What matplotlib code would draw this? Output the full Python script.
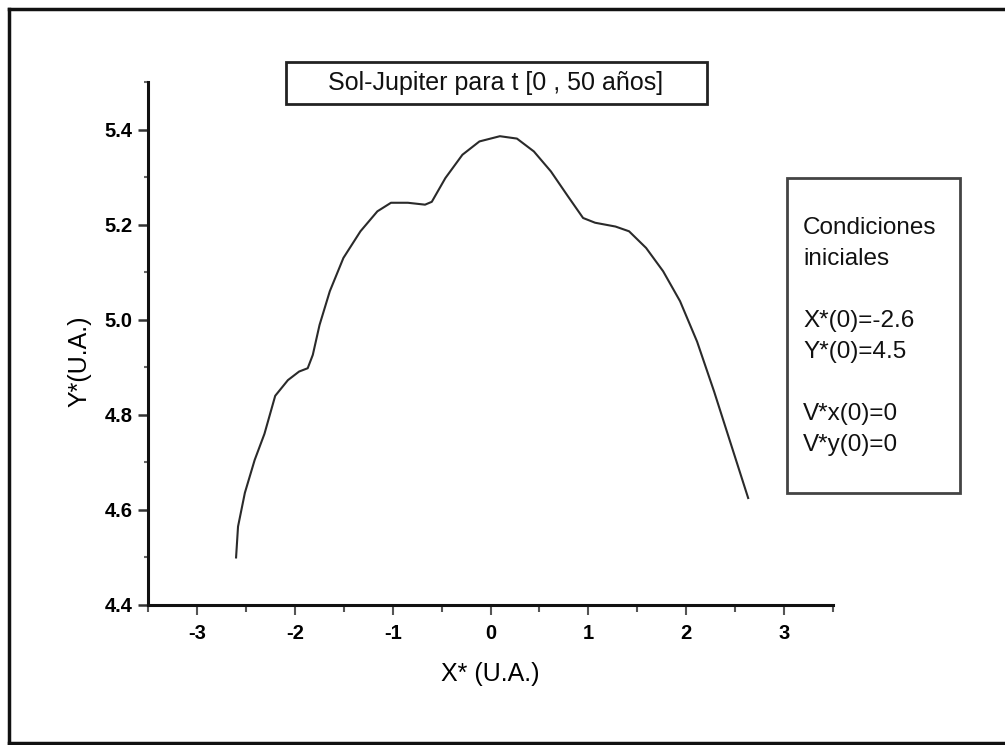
import matplotlib.pyplot as plt
from matplotlib.patches import Rectangle
from matplotlib.lines import Line2D
import numpy as np

plt.rcParams['font.family'] = ['Liberation Sans', 'DejaVu Sans']

# orbit points (X*, Y* in U.A.)
x_orbit = [-2.60, -2.58, -2.51, -2.41, -2.31, -2.20, -2.07, -1.956, -1.868,
           -1.816, -1.747, -1.642, -1.503, -1.329, -1.156, -1.017, -0.844,
           -0.669, -0.600, -0.461, -0.287, -0.113, 0.096, 0.270, 0.443,
           0.617, 0.790, 0.946, 1.069, 1.277, 1.416, 1.590, 1.764, 1.937,
           2.111, 2.285, 2.459, 2.633]
y_orbit = [4.50, 4.565, 4.636, 4.705, 4.76, 4.84, 4.873, 4.891, 4.898,
           4.926, 4.989, 5.060, 5.130, 5.186, 5.228, 5.246, 5.246,
           5.242, 5.248, 5.298, 5.347, 5.375, 5.386, 5.381, 5.354,
           5.312, 5.260, 5.214, 5.204, 5.196, 5.186, 5.151, 5.102, 5.039,
           4.954, 4.849, 4.737, 4.625]

x_ticks = [-3, -2, -1, 0, 1, 2, 3]
y_ticks = [4.4, 4.6, 4.8, 5.0, 5.2, 5.4]

title = "Sol-Jupiter para t [0 , 50 años]"
cond_lines = ["Condiciones", "iniciales", "", "X*(0)=-2.6", "Y*(0)=4.5",
              "", "V*x(0)=0", "V*y(0)=0"]

W, H = 1005, 745
fig = plt.figure(figsize=(W / 100, H / 100), dpi=100)
ax = fig.add_axes([148 / W, 1 - 605 / H, 685 / W, 523 / H])

ax.plot(x_orbit, y_orbit, color='#2a2a2a', lw=1.5)

ax.set_xlim(-3.5, 3.5)
ax.set_ylim(4.4, 5.5)
ax.spines['top'].set_visible(False)
ax.spines['right'].set_visible(False)
for s in ['left', 'bottom']:
    ax.spines[s].set_linewidth(2.2)
    ax.spines[s].set_color('#111111')

ax.set_xticks(x_ticks)
ax.set_xticklabels([str(t) for t in x_ticks])
ax.set_xticks(np.arange(-3.5, 3.6, 0.5), minor=True)
ax.set_yticks(y_ticks)
ax.set_yticklabels([f"{t:.1f}" for t in y_ticks])
ax.set_yticks(np.arange(4.5, 5.51, 0.1), minor=True)

ax.tick_params(axis='x', which='major', direction='out', length=7, width=1.5,
               color='#555555', pad=7, labelsize=14.5)
ax.tick_params(axis='x', which='minor', direction='out', length=5, width=1.5,
               color='#555555')
ax.tick_params(axis='y', which='major', direction='out', length=7, width=1.8,
               color='#333333', pad=4, labelsize=14.5)
ax.tick_params(axis='y', which='minor', direction='out', length=3, width=1.5,
               color='#666666')
for lab in ax.get_xticklabels() + ax.get_yticklabels():
    lab.set_fontweight('bold')

ax.set_xlabel("X* (U.A.)", fontsize=18, labelpad=13)
ax.set_ylabel("Y*(U.A.)", fontsize=18)
ax.yaxis.set_label_coords(-0.082, 0.4665)

# title box
fig.patches.append(Rectangle((286 / W, 1 - 104 / H), 421 / W, 42 / H,
                             transform=fig.transFigure, fill=False,
                             edgecolor='#222222', lw=2))
fig.text(496 / W, 1 - 83 / H, title, ha='center', va='center', fontsize=18,
         color='#111111')

# initial conditions box
fig.patches.append(Rectangle((787 / W, 1 - 493 / H), 173 / W, 315 / H,
                             transform=fig.transFigure, fill=False,
                             edgecolor='#444444', lw=2))
line_y = 228
for line in cond_lines:
    if line:
        fig.text(803 / W, 1 - line_y / H, line, ha='left', va='center',
                 fontsize=17.5, color='#111111')
    line_y += 31

# outer frame (left, top, bottom)
for xs, ys in [([9, 9], [9, 743]), ([9, W], [9, 9]), ([9, W], [743, 743])]:
    fig.lines.append(Line2D([x / W for x in xs], [1 - y / H for y in ys],
                            transform=fig.transFigure, color='#111111', lw=2.5))

fig.savefig("out.png", dpi=100)
